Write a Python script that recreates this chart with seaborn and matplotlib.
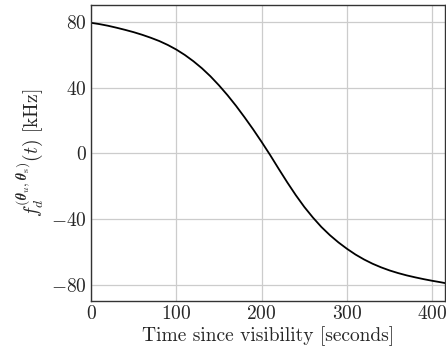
import numpy as np
import pandas as pd
import matplotlib
matplotlib.use("Agg")
import matplotlib.pyplot as plt
import seaborn as sns

# -------- Data --------
time_s = [0, 10, 20, 30, 40, 50, 60, 70, 80, 90, 100, 110, 120, 130, 140,
          150, 160, 170, 180, 190, 200, 210, 220, 230, 240, 250, 260, 270,
          280, 290, 300, 310, 320, 330, 340, 350, 360, 370, 380, 390, 400,
          410, 415]
doppler_khz = [79.6, 78.8, 77.8, 76.6, 75.3, 73.9, 72.3, 70.5, 68.5, 66.1,
               63.3, 60.0, 56.2, 51.9, 47.0, 41.5, 35.5, 29.0, 22.0, 14.7,
               7.0, -1.0, -9.4, -17.6, -25.4, -32.6, -39.0, -44.8, -49.8,
               -54.2, -58.1, -61.6, -64.6, -67.2, -69.4, -71.3, -72.9, -74.3,
               -75.5, -76.6, -77.6, -78.5, -79.0]
yticks = [-80, -40, 0, 40, 80]
xticks = [0, 100, 200, 300, 400]

df = pd.DataFrame({"t": time_s, "fd": doppler_khz})

# -------- Style --------
sns.set_style("whitegrid")
plt.rcParams["font.family"] = ["cmr10", "DejaVu Serif"]
plt.rcParams["mathtext.fontset"] = "cm"
plt.rcParams["axes.formatter.use_mathtext"] = True
plt.rcParams["font.size"] = 14

fig = plt.figure(figsize=(4.46, 3.51), dpi=100)
ax = fig.add_axes([0.204, 0.142, 0.794, 0.844])

sns.lineplot(data=df, x="t", y="fd", ax=ax, color="black", linewidth=1.3)

ax.set_xlim(0, 415)
ax.set_ylim(-90, 90.5)
ax.set_xticks(xticks)
ax.set_yticks(yticks)
ax.tick_params(length=0, labelsize=14, pad=3)
ax.grid(True, color="#cccccc", linewidth=0.9)

for side, sp in ax.spines.items():
    sp.set_color("#333333")
    sp.set_linewidth(1.0)
    sp.set_visible(True)

ax.set_xlabel("Time since visibility [seconds]", fontsize=14, labelpad=2)
ax.set_ylabel(r"$f_d^{(\boldsymbol{\theta}_u,\boldsymbol{\theta}_\mathrm{s})}(t)$ [kHz]",
              fontsize=14, labelpad=4)

fig.savefig("out.png", dpi=100)
plt.close(fig)
